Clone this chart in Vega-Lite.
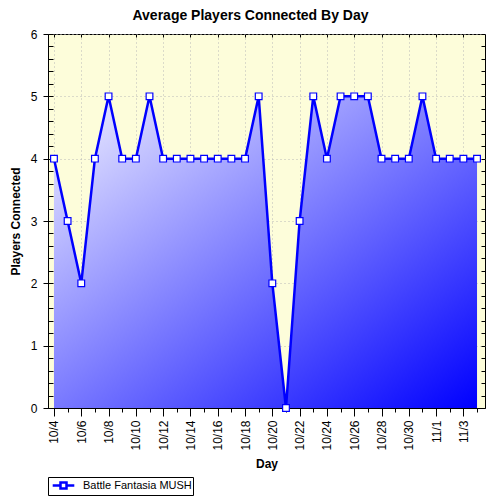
{
  "$schema": "https://vega.github.io/schema/vega-lite/v6.json",
  "autosize": {"type": "none"},
  "width": 437,
  "height": 374,
  "padding": {"left": 48, "top": 34, "right": 15, "bottom": 92},
  "background": "white",
  "title": {
    "text": "Average Players Connected By Day",
    "fontSize": 14,
    "fontWeight": "bold",
    "font": "Liberation Sans",
    "color": "black",
    "anchor": "middle",
    "dx": -16,
    "offset": 5
  },
  "config": {
    "font": "Liberation Sans",
    "view": {"fill": "#fdfdda", "stroke": "black", "strokeWidth": 1},
    "axis": {
      "labelFont": "Liberation Sans",
      "labelFontSize": 12,
      "labelColor": "black",
      "tickColor": "black",
      "domainColor": "black",
      "titleFont": "Liberation Sans",
      "titleFontSize": 12,
      "titleFontWeight": "bold",
      "titleColor": "black"
    }
  },
  "data": {
    "values": [
      {"date": "2008-10-04", "players": 4},
      {"date": "2008-10-05", "players": 3},
      {"date": "2008-10-06", "players": 2},
      {"date": "2008-10-07", "players": 4},
      {"date": "2008-10-08", "players": 5},
      {"date": "2008-10-09", "players": 4},
      {"date": "2008-10-10", "players": 4},
      {"date": "2008-10-11", "players": 5},
      {"date": "2008-10-12", "players": 4},
      {"date": "2008-10-13", "players": 4},
      {"date": "2008-10-14", "players": 4},
      {"date": "2008-10-15", "players": 4},
      {"date": "2008-10-16", "players": 4},
      {"date": "2008-10-17", "players": 4},
      {"date": "2008-10-18", "players": 4},
      {"date": "2008-10-19", "players": 5},
      {"date": "2008-10-20", "players": 2},
      {"date": "2008-10-21", "players": 0},
      {"date": "2008-10-22", "players": 3},
      {"date": "2008-10-23", "players": 5},
      {"date": "2008-10-24", "players": 4},
      {"date": "2008-10-25", "players": 5},
      {"date": "2008-10-26", "players": 5},
      {"date": "2008-10-27", "players": 5},
      {"date": "2008-10-28", "players": 4},
      {"date": "2008-10-29", "players": 4},
      {"date": "2008-10-30", "players": 4},
      {"date": "2008-10-31", "players": 5},
      {"date": "2008-11-01", "players": 4},
      {"date": "2008-11-02", "players": 4},
      {"date": "2008-11-03", "players": 4},
      {"date": "2008-11-04", "players": 4}
    ]
  },
  "encoding": {
    "x": {
      "field": "date",
      "type": "temporal",
      "axis": null,
      "scale": {
        "type": "utc",
        "domain": [
          {"year": 2008, "month": 10, "date": 3, "hours": 13, "minutes": 30, "utc": true},
          {"year": 2008, "month": 11, "date": 4, "hours": 14, "utc": true}
        ]
      }
    },
    "y": {
      "field": "players",
      "type": "quantitative",
      "axis": null,
      "scale": {"domain": [0, 6], "nice": false}
    }
  },
  "layer": [
    {
      "mark": {
        "type": "area",
        "fill": {
          "gradient": "linear",
          "x1": 0, "y1": 0, "x2": 1, "y2": 1,
          "stops": [
            {"offset": 0, "color": "#f2f2ff"},
            {"offset": 1, "color": "#0000ff"}
          ]
        }
      },
      "encoding": {
        "x": {
          "field": "date",
          "type": "temporal",
          "title": "Day",
          "axis": {
            "orient": "bottom",
            "tickCount": {"interval": "day", "step": 1},
            "labelExpr": "round((datum.value - utc(2008, 9, 4)) / 864e5) % 2 == 0 ? utcFormat(datum.value, '%-m/%-d') : ''",
            "labelOverlap": false,
            "labelAngle": 270,
            "labelAlign": "right",
            "labelBaseline": "middle",
            "labelPadding": 4,
            "tickSize": {"condition": {"test": "round((datum.value - utc(2008, 9, 4)) / 864e5) % 2 == 0", "value": 8}, "value": 4},
            "grid": true,
            "gridColor": "#b8b8b8",
            "gridDash": [1, 3],
            "gridOpacity": {"condition": {"test": "round((datum.value - utc(2008, 9, 4)) / 864e5) % 2 == 0", "value": 1}, "value": 0},
            "titlePadding": 8
          }
        },
        "y": {
          "field": "players",
          "type": "quantitative",
          "title": "Players Connected",
          "axis": {
            "orient": "left",
            "values": [0, 1, 2, 3, 4, 5, 6],
            "tickSize": 5,
            "labelPadding": 6,
            "grid": true,
            "gridColor": "#b8b8b8",
            "gridDash": [1, 3],
            "titlePadding": 8
          }
        }
      }
    },
    {
      "mark": {"type": "line", "strokeWidth": 2.5},
      "encoding": {
        "color": {
          "datum": "Battle Fantasia MUSH",
          "type": "nominal",
          "scale": {"domain": ["Battle Fantasia MUSH"], "range": ["#0000ff"]},
          "legend": {
            "title": null,
            "orient": "none",
            "legendX": 0,
            "legendY": 443,
            "strokeColor": "black",
            "fillColor": "white",
            "padding": 1,
            "symbolType": "M-1.8,0H-0.5M0.5,0H1.8M-0.5,-0.5H0.5V0.5H-0.5Z",
            "symbolSize": 144,
            "symbolOffset": 7,
            "symbolFillColor": "white",
            "symbolStrokeWidth": 2.5,
            "labelFont": "Liberation Sans",
            "labelFontSize": 11,
            "labelColor": "black",
            "labelOffset": 12
          }
        }
      }
    },
    {
      "mark": {"type": "point", "shape": "square", "filled": true, "fill": "white", "stroke": "#0000ff", "strokeWidth": 1.2, "size": 45, "opacity": 1}
    },
    {
      "mark": {"type": "point", "opacity": 0},
      "encoding": {
        "x": {
          "field": "date",
          "type": "temporal",
          "axis": {
            "orient": "top",
            "title": null,
            "labels": false,
            "domain": false,
            "grid": false,
            "tickCount": {"interval": "day", "step": 1},
            "tickSize": -3,
            "tickOpacity": {"condition": {"test": "round((datum.value - utc(2008, 9, 4)) / 864e5) % 2 == 0", "value": 1}, "value": 0}
          }
        },
        "y": {
          "field": "players",
          "type": "quantitative",
          "axis": {
            "orient": "right",
            "title": null,
            "labels": false,
            "domain": false,
            "grid": false,
            "values": [0, 0.2, 0.4, 0.6, 0.8, 1, 1.2, 1.4, 1.6, 1.8, 2, 2.2, 2.4, 2.6, 2.8, 3, 3.2, 3.4, 3.6, 3.8, 4, 4.2, 4.4, 4.6, 4.8, 5, 5.2, 5.4, 5.6, 5.8, 6],
            "tickSize": -4
          }
        }
      }
    },
    {
      "mark": {"type": "point", "opacity": 0},
      "encoding": {
        "y": {
          "field": "players",
          "type": "quantitative",
          "axis": {
            "orient": "left",
            "title": null,
            "labels": false,
            "domain": false,
            "grid": false,
            "values": [0, 0.2, 0.4, 0.6, 0.8, 1, 1.2, 1.4, 1.6, 1.8, 2, 2.2, 2.4, 2.6, 2.8, 3, 3.2, 3.4, 3.6, 3.8, 4, 4.2, 4.4, 4.6, 4.8, 5, 5.2, 5.4, 5.6, 5.8, 6],
            "tickSize": -5
          }
        }
      }
    }
  ],
  "resolve": {"axis": {"x": "independent", "y": "independent"}}
}
